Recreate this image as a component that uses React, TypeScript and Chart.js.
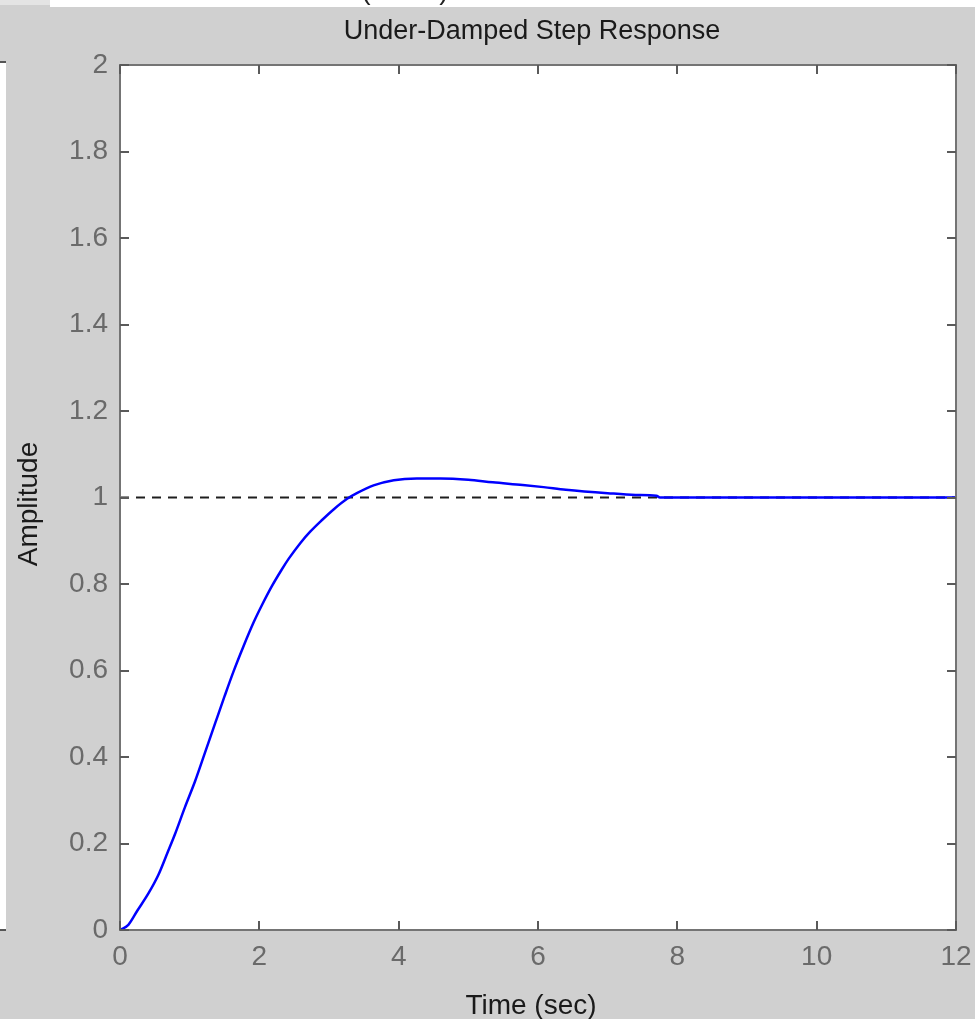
import React, { useEffect, useRef } from 'react';
import { Chart, registerables } from 'chart.js';

Chart.register(...registerables);

// Step response samples (time in seconds, output amplitude)
const timeSec = [
  0, 0.12, 0.25, 0.41, 0.55, 0.69, 0.79, 0.93, 1.08, 1.22, 1.37, 1.5, 1.63, 1.77,
  1.92, 2.04, 2.18, 2.32, 2.42, 2.59, 2.73, 2.9, 3.07, 3.26, 3.4, 3.64, 3.93, 4.26,
  4.6, 5.0, 5.35, 5.78, 6.08, 6.4, 7.0, 7.4, 7.7, 7.75, 8, 9, 10, 11, 12,
];
const amplitude = [
  0, 0.012, 0.045, 0.085, 0.127, 0.182, 0.222, 0.283, 0.345, 0.41, 0.48, 0.54, 0.598,
  0.655, 0.712, 0.752, 0.795, 0.833, 0.858, 0.895, 0.921, 0.948, 0.973, 0.997, 1.01,
  1.028, 1.04, 1.044, 1.044, 1.041, 1.035, 1.029, 1.024, 1.018, 1.01, 1.006, 1.004,
  1.0, 1.0, 1.0, 1.0, 1.0, 1.0,
];

// Steady-state reference level
const referenceTimes = [0, 12];
const referenceLevel = [1, 1];

const xTicks = [0, 2, 4, 6, 8, 10, 12];
const yTicks = [0, 0.2, 0.4, 0.6, 0.8, 1, 1.2, 1.4, 1.6, 1.8, 2];

const titleText = 'Under-Damped Step Response';
const xLabel = 'Time (sec)';
const yLabel = 'Amplitude';

const FONT = "'Liberation Sans', Arial, sans-serif";
const FIG_BG = '#d0d0d0';
const AXIS_GRAY = '#6a6a6a';
const TICK_LEN = 9;

const figurePlugin = {
  id: 'figureDecor',
  beforeDraw(chart: any) {
    const { ctx, width, height, chartArea } = chart;
    ctx.save();
    ctx.fillStyle = FIG_BG;
    ctx.fillRect(0, 0, width, height);
    // strips left over from neighbouring panels
    ctx.fillStyle = '#e4e4e4';
    ctx.fillRect(0, 0, 50, 5);
    ctx.fillStyle = '#ffffff';
    ctx.fillRect(50, 0, width - 50, 7);
    ctx.fillRect(0, 62, 6, 868);
    ctx.fillStyle = '#555555';
    ctx.fillRect(0, 61, 6, 2);
    ctx.fillRect(0, 929, 6, 2);
    ctx.fillStyle = '#222222';
    ctx.font = `28px ${FONT}`;
    ctx.textAlign = 'center';
    ctx.textBaseline = 'alphabetic';
    ctx.fillText('(', 366, -1);
    ctx.fillText(')', 444, -1);
    // white axes area
    ctx.fillStyle = '#ffffff';
    ctx.fillRect(chartArea.left, chartArea.top, chartArea.right - chartArea.left, chartArea.bottom - chartArea.top);
    ctx.restore();
  },
  afterDraw(chart: any) {
    const { ctx, chartArea } = chart;
    const xs = chart.scales.x;
    const ys = chart.scales.y;
    ctx.save();
    // axes box
    ctx.strokeStyle = '#747474';
    ctx.lineWidth = 2;
    ctx.strokeRect(chartArea.left, chartArea.top, chartArea.right - chartArea.left, chartArea.bottom - chartArea.top);
    // inward tick marks on all four sides
    ctx.strokeStyle = '#5a5a5a';
    ctx.lineWidth = 2;
    ctx.beginPath();
    for (const v of xTicks) {
      const px = Math.round(xs.getPixelForValue(v));
      ctx.moveTo(px, chartArea.bottom);
      ctx.lineTo(px, chartArea.bottom - TICK_LEN);
      ctx.moveTo(px, chartArea.top);
      ctx.lineTo(px, chartArea.top + TICK_LEN);
    }
    for (const v of yTicks) {
      const py = Math.round(ys.getPixelForValue(v));
      ctx.moveTo(chartArea.left, py);
      ctx.lineTo(chartArea.left + TICK_LEN, py);
      ctx.moveTo(chartArea.right, py);
      ctx.lineTo(chartArea.right - TICK_LEN, py);
    }
    ctx.stroke();
    // title and axis labels
    ctx.fillStyle = '#1a1a1a';
    ctx.font = `27px ${FONT}`;
    ctx.textAlign = 'center';
    ctx.textBaseline = 'alphabetic';
    ctx.fillText(titleText, 532, 39);
    ctx.font = `28px ${FONT}`;
    ctx.fillText(xLabel, 531, 1014);
    ctx.translate(37, 504);
    ctx.rotate(-Math.PI / 2);
    ctx.fillText(yLabel, 0, 0);
    ctx.restore();
  },
};

export default function App() {
  const canvasRef = useRef<HTMLCanvasElement | null>(null);

  useEffect(() => {
    if (!canvasRef.current) return;
    const chart = new Chart(canvasRef.current, {
      type: 'scatter',
      data: {
        datasets: [
          {
            label: 'Step response',
            data: timeSec.map((t, i) => ({ x: t, y: amplitude[i] })),
            showLine: true,
            borderColor: '#0000ff',
            borderWidth: 2.5,
            pointRadius: 0,
            cubicInterpolationMode: 'monotone',
          },
          {
            label: 'Final value',
            data: referenceTimes.map((t, i) => ({ x: t, y: referenceLevel[i] })),
            showLine: true,
            borderColor: '#1e1e1e',
            borderWidth: 2,
            borderDash: [9, 7],
            pointRadius: 0,
          },
        ],
      },
      options: {
        responsive: false,
        animation: false,
        layout: { padding: { top: 65, right: 19, left: 0, bottom: 0 } },
        plugins: {
          legend: { display: false },
          tooltip: { enabled: false },
          title: { display: false },
        },
        scales: {
          x: {
            type: 'linear',
            min: 0,
            max: 12,
            border: { display: false },
            grid: { display: false, drawTicks: false },
            afterBuildTicks: (scale: any) => {
              scale.ticks = xTicks.map((v) => ({ value: v }));
            },
            afterFit: (scale: any) => {
              scale.height = 89;
              scale.paddingLeft = 0;
              scale.paddingRight = 0;
            },
            ticks: {
              padding: 10,
              color: AXIS_GRAY,
              font: { family: FONT, size: 28 },
              maxRotation: 0,
              autoSkip: false,
              callback: (v: any) => String(v),
            },
          },
          y: {
            type: 'linear',
            min: 0,
            max: 2,
            border: { display: false },
            grid: { display: false, drawTicks: false },
            afterBuildTicks: (scale: any) => {
              scale.ticks = yTicks.map((v) => ({ value: v }));
            },
            afterFit: (scale: any) => {
              scale.width = 120;
              scale.paddingTop = 0;
              scale.paddingBottom = 0;
            },
            ticks: {
              padding: 12,
              color: AXIS_GRAY,
              font: { family: FONT, size: 28 },
              autoSkip: false,
              callback: (v: any) => String(Math.round(Number(v) * 10) / 10),
            },
          },
        },
      },
      plugins: [figurePlugin],
    });
    return () => chart.destroy();
  }, []);

  return (
    <div style={{ position: 'absolute', left: 0, top: 0, width: 975, height: 1019 }}>
      <canvas ref={canvasRef} width={975} height={1019} style={{ width: 975, height: 1019, display: 'block' }} />
    </div>
  );
}
